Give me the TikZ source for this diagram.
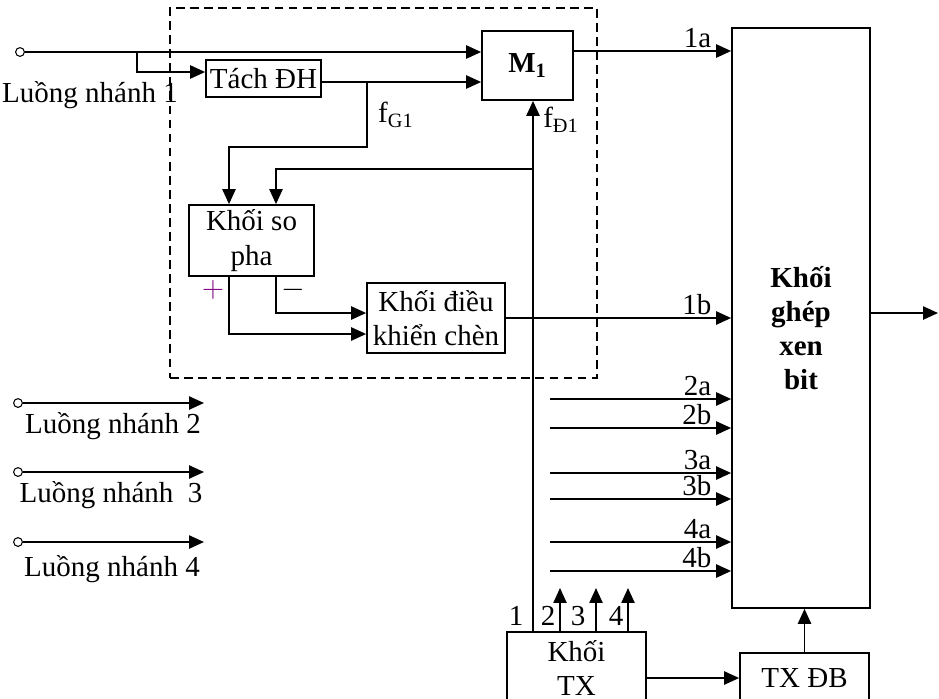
\documentclass[tikz,border=0pt]{standalone}
\usepackage{fontspec}
\setmainfont{Liberation Serif}
\usetikzlibrary{arrows.meta,positioning,calc}
\definecolor{plusclr}{RGB}{128,0,128}
\tikzset{
  blk/.style={draw, line width=1pt, fill=white, align=center, inner sep=0pt},
  sig/.style={-{Triangle[length=8.5pt,width=7.5pt]}, line width=1pt},
  grp/.style={draw, dash pattern=on 5pt off 3pt, line width=0.8pt},
  lab/.style={anchor=south east, inner sep=0pt, xshift=-0.38cm, yshift=0.05cm},
  port/.style={draw, circle, line width=0.6pt, inner sep=0pt, minimum size=5pt, fill=white},
  bold/.style={font=\fontsize{16.5}{19.5}\selectfont\bfseries},
}

\begin{document}
\begin{tikzpicture}[x=0.02cm, y=-0.02cm, font=\fontsize{16.5}{19.5}\selectfont]
  \useasboundingbox (0,0) rectangle (939,698);
  % dashed frame round branch 1
  \node[grp, minimum width=8.54cm, minimum height=7.4cm] (frame) at (383.5,193) {};
  % blocks
  \node[blk, minimum width=2.3cm, minimum height=0.74cm] (tach) at (263.5,78.5) {Tách ĐH};
  \node[blk, minimum width=1.82cm, minimum height=1.38cm] (m1) at (527.5,65.5) {\textbf{M\textsubscript{1}}};
  \node[blk, minimum width=2.5cm, minimum height=1.42cm] (sopha) at (251.5,240.5) {Khối so\\pha};
  \node[blk, minimum width=2.76cm, minimum height=1.4cm] (dkc) at (436,318) {Khối điều\\khiển chèn};
  \node[blk, minimum width=2.76cm, minimum height=11.6cm] (ghep) at (801,318) {};
  \node[bold, align=center] (gheptxt) at (801,328) {Khối\\ghép\\xen\\bit};
  \node[blk, minimum width=2.78cm, minimum height=1.44cm] (tx) at (576.5,668) {Khối\\TX};
  \node[blk, minimum width=2.58cm, minimum height=1.0cm] (txdb) at (804.5,678) {TX ĐB};

  % branch 1 input
  \node[port] (in1) at (20,52) {};
  \coordinate (b1) at (137,52);
  \coordinate (b1d) at (137,72);
  \draw[sig] (in1) -- (in1 -| m1.west);
  \draw[sig] (b1) -- (b1d) -- (b1d -| tach.west);
  \node (l1) at (90,95) {Luồng nhánh 1};

  \coordinate (t1) at (367,82);
  \coordinate (fg) at (367,147);
  \draw[sig] (tach.east |- t1) -- (t1) -- (t1 -| m1.west);
  \draw[sig] (t1) -- (fg) -| ($(sopha.north)+(-22.5,0)$);
  \node[anchor=west] (fgl) at (372,115) {f\textsubscript{G1}};

  \coordinate (fd) at (533,169);
  \draw[sig] (tx.north -| fd) -- (m1.south -| fd);
  \draw[sig] (fd) -| ($(sopha.north)+(24.5,0)$);
  \node (fdl) at (561,120) {f\textsubscript{Đ1}};

  % phase comparator to stuffing control
  \draw[sig] ($(sopha.south)+(-22.5,0)$) |- ($(dkc.west)+(0,16)$);
  \draw[sig] ($(sopha.south)+(24.5,0)$) |- ($(dkc.west)+(0,-5)$);
  \node[text=plusclr] (plus) at (213,290) {$+$};
  \node (minus) at (293,290) {$-$};

  % into the multiplexer
  \coordinate (c1a) at ($(m1.east)+(0,-14.5)$);
  \draw[sig] (c1a) -- (c1a -| ghep.west) node[lab, pos=1] {1a};
  \draw[sig] (dkc.east) -- (dkc.east -| ghep.west) node[lab, pos=1] {1b};
  \foreach \y/\t in {399/2a,428/2b,473/3a,499/3b,542/4a,571/4b}{
    \coordinate (s\t) at (550,\y);
    \draw[sig] (s\t) -- (s\t -| ghep.west) node[lab, pos=1] {\t};
  }

  % other tributaries
  \foreach \n/\y in {2/403,3/472,4/542}{
    \node[port] (in\n) at (18,\y) {};
    \coordinate (e\n) at (204,\y);
    \draw[sig] (in\n) -- (e\n);
  }
  \node (l2) at (113,426) {Luồng nhánh 2};
  \node (l3) at (111,495) {Luồng nhánh\ \ 3};
  \node (l4) at (112,569) {Luồng nhánh 4};

  % timing block outputs
  \node (n1) at (516,616) {1};
  \foreach \x/\lx/\t in {560/548/2,596/578/3,628/616/4}{
    \coordinate (u\t) at (\x,588);
    \draw[sig] (tx.north -| u\t) -- (u\t);
    \node (n\t) at (\lx,616) {\t};
  }
  \draw[sig] (tx.east |- txdb.west) -- (txdb.west);
  \draw[sig] (txdb.north) -- (txdb.north |- ghep.south);
  \coordinate (out) at (938,313);
  \draw[sig] (out -| ghep.east) -- (out);
\end{tikzpicture}
\end{document}
